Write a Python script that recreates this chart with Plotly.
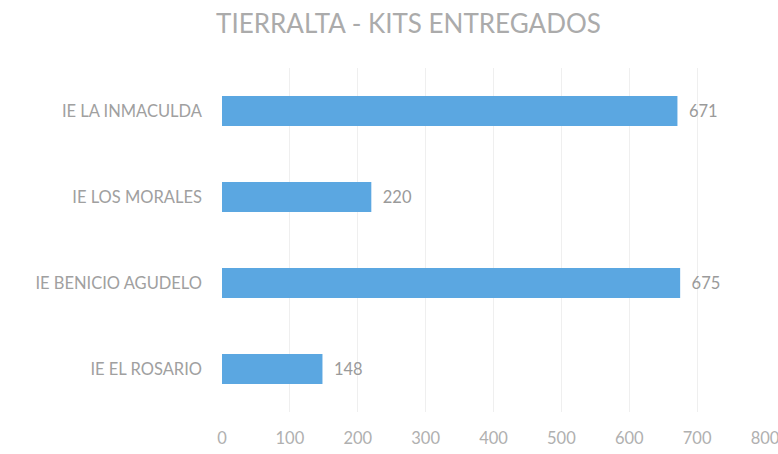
import plotly.graph_objects as go

categories = ["IE LA INMACULDA", "IE LOS MORALES", "IE BENICIO AGUDELO", "IE EL ROSARIO"]
values = [671, 220, 675, 148]
x_ticks = [0, 100, 200, 300, 400, 500, 600, 700, 800]
title_text = "TIERRALTA - KITS ENTREGADOS"

fig = go.Figure(go.Bar(
    x=values,
    y=categories,
    orientation="h",
    marker=dict(color="#5ba7e1", line=dict(width=0)),
    text=["  " + str(v) for v in values],
    textposition="outside",
    textfont=dict(family="Lato", size=16.5, color="#9a9a9a"),
    cliponaxis=False,
))

fig.update_layout(
    width=778,
    height=454,
    paper_bgcolor="white",
    plot_bgcolor="white",
    margin=dict(l=222, r=13, t=68, b=42, autoexpand=False),
    bargap=0.65,
    showlegend=False,
    title=dict(
        text=title_text,
        x=0.525,
        xanchor="center",
        y=0.948,
        yanchor="middle",
        font=dict(family="Lato", size=26, color="#ababab"),
    ),
    xaxis=dict(
        range=[0, 800],
        tickvals=x_ticks,
        ticktext=[str(t) for t in x_ticks],
        showgrid=True,
        gridcolor="#efefef",
        gridwidth=1,
        zeroline=False,
        showline=False,
        tickfont=dict(family="Lato", size=16.5, color="#b0b0b0"),
        ticklabelstandoff=14,
        ticklabeloverflow="allow",
        automargin=False,
    ),
    yaxis=dict(
        autorange="reversed",
        showgrid=False,
        zeroline=False,
        showline=False,
        tickfont=dict(family="Lato", size=16.5, color="#a0a0a0"),
        ticklabelstandoff=19,
        automargin=False,
    ),
)

fig.write_html("out.html", config={"displayModeBar": False},
               post_script="document.body.style.margin='0';")
